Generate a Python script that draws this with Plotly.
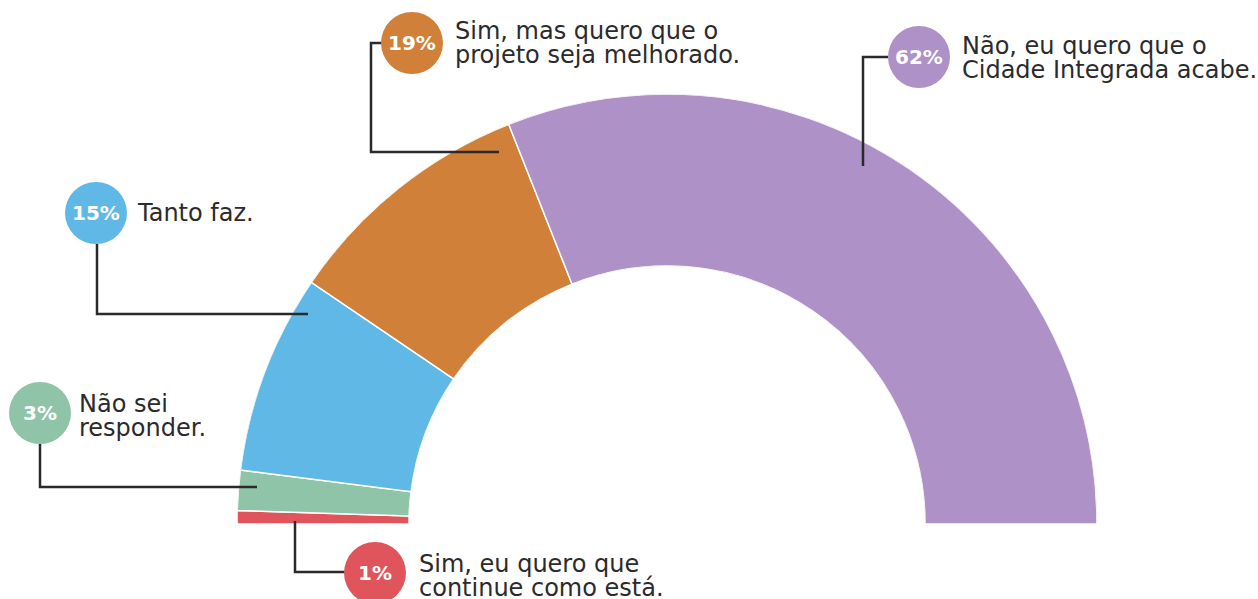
import plotly.graph_objects as go
import numpy as np

# dados
respostas = ['Sim, eu quero que continue como está.', 'Não sei responder.', 'Tanto faz.',
             'Sim, mas quero que o projeto seja melhorado.', 'Não, eu quero que o Cidade Integrada acabe.']
percentuais = [1, 3, 15, 19, 62]
cores = ['#E0545B', '#8FC4A8', '#5FB8E6', '#D1803A', '#AD91C7']
rotulos = [['Sim, eu quero que', 'continue como está.'], ['Não sei', 'responder.'], ['Tanto faz.'],
           ['Sim, mas quero que o', 'projeto seja melhorado.'], ['Não, eu quero que o', 'Cidade Integrada acabe.']]

W, H = 1258, 599

def px(x):
    return x / W

def py(y):
    return 1 - y / H

# meia rosca: 100% = 180 graus
graus = np.array(percentuais) * 1.8
fim = np.cumsum(graus)
meio = fim - graus / 2

fig = go.Figure()
fig.add_trace(go.Barpolar(
    r=[1] * len(percentuais), theta=meio, width=graus,
    marker=dict(color=cores, line=dict(color='white', width=1.5)),
    hovertext=respostas, showlegend=False))

fig.update_layout(
    width=W, height=H,
    margin=dict(l=0, r=0, t=0, b=0),
    paper_bgcolor='white', plot_bgcolor='white',
    polar=dict(
        domain=dict(x=[px(237), px(1097)], y=[py(524), py(94)]),
        sector=[0, 180], hole=0.6, bgcolor='rgba(0,0,0,0)',
        radialaxis=dict(range=[0, 1], visible=False),
        angularaxis=dict(rotation=180, direction='clockwise', visible=False)))

# posição dos marcadores (centro do círculo), linhas guia e textos
circulos = [(375, 573), (40, 413), (96, 213), (412, 43), (919, 57)]
guias = [[(295, 521), (295, 572), (345, 572)],
         [(40, 444), (40, 487), (257, 487)],
         [(97, 244), (97, 314), (308, 314)],
         [(382, 43), (371, 43), (371, 152), (499, 152)],
         [(888, 57), (863, 57), (863, 166)]]
textos_xy = [(417, 564), (77, 404), (135, 213), (453, 31), (960, 46)]

cor_texto = '#2b2b2b'
for i in range(len(percentuais)):
    pts = guias[i]
    path = 'M ' + ' L '.join(f'{px(x)},{py(y)}' for x, y in pts)
    fig.add_shape(type='path', path=path, xref='paper', yref='paper',
                  line=dict(color='#2a2a2a', width=2.5), layer='above')
    cx, cy = circulos[i]
    fig.add_shape(type='circle', xref='paper', yref='paper',
                  x0=px(cx - 31), x1=px(cx + 31), y0=py(cy + 31), y1=py(cy - 31),
                  fillcolor=cores[i], line=dict(width=0), layer='above')
    fig.add_annotation(x=px(cx), y=py(cy), xref='paper', yref='paper',
                       text=f'<b>{percentuais[i]}%</b>', showarrow=False,
                       xanchor='center', yanchor='middle',
                       font=dict(family='DejaVu Sans', size=20, color='white'))
    tx, ty = textos_xy[i]
    for j, linha in enumerate(rotulos[i]):
        fig.add_annotation(x=px(tx), y=py(ty + 24 * j), xref='paper', yref='paper',
                           text=linha, showarrow=False, xanchor='left', yanchor='middle',
                           font=dict(family='DejaVu Sans', size=24, color=cor_texto))

# tira a margem padrão do body para o gráfico ocupar a janela toda
fig.write_html('out.html', config={'displayModeBar': False},
               post_script="document.body.style.margin='0';")
